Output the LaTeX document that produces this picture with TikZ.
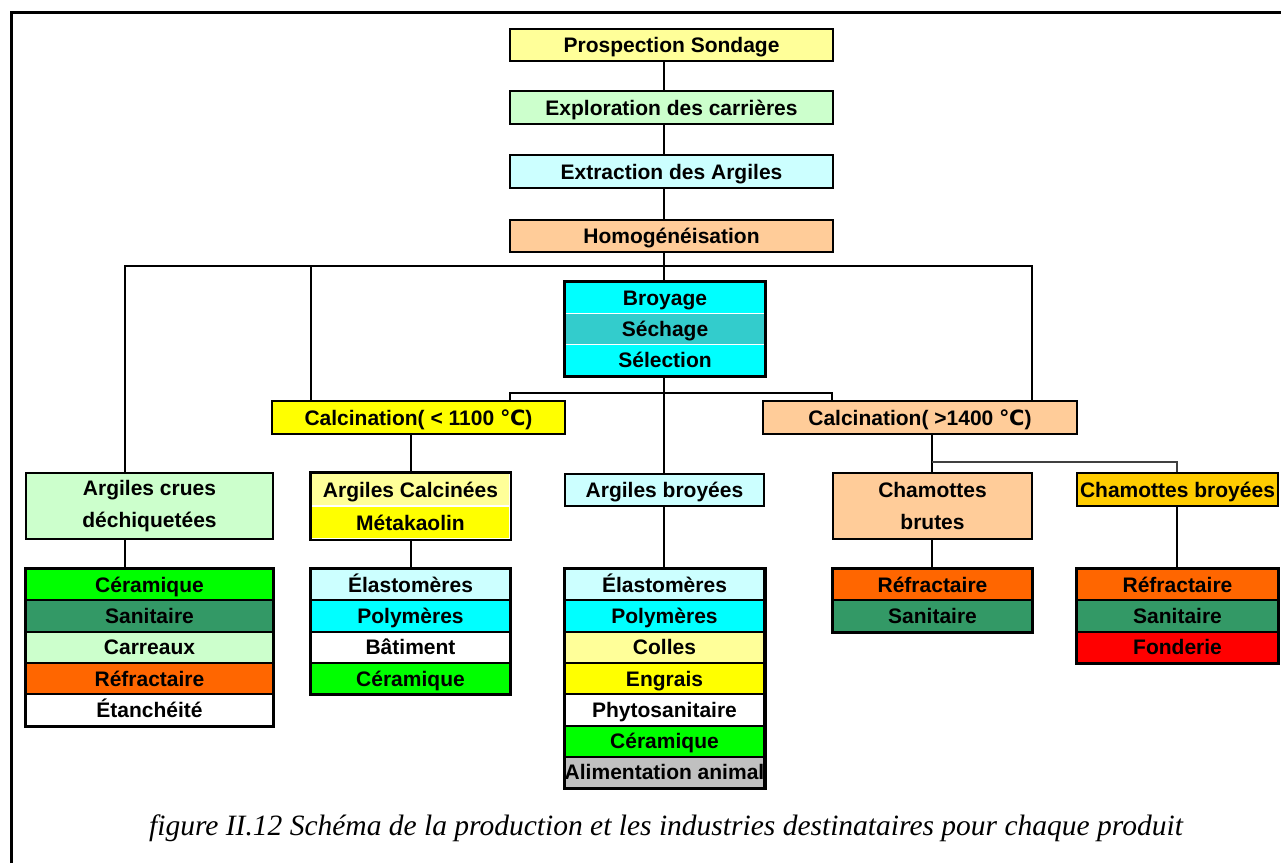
\documentclass[tikz,border=0pt]{standalone}
\usepackage{fontspec}
\setmainfont{Liberation Serif}
\setsansfont{Liberation Sans}
\newfontfamily\dejavu{DejaVu Sans}
\definecolor{lyel}{HTML}{FFFF99}
\definecolor{lgreen}{HTML}{CCFFCC}
\definecolor{lcyan}{HTML}{CCFFFF}
\definecolor{peach}{HTML}{FFCC99}
\definecolor{cyanb}{HTML}{00FFFF}
\definecolor{teal2}{HTML}{33CCCC}
\definecolor{yel}{HTML}{FFFF00}
\definecolor{gold}{HTML}{FFCC00}
\definecolor{green2}{HTML}{00FF00}
\definecolor{sea}{HTML}{339966}
\definecolor{orange2}{HTML}{FF6600}
\definecolor{red2}{HTML}{FF0000}
\definecolor{gray2}{HTML}{C0C0C0}
\newcommand\degC{{\dejavu\bfseries ℃}}
\tikzset{
  lbl/.style={font=\sffamily\bfseries\fontsize{21}{32}\selectfont, inner sep=0pt, align=center},
  oneline/.style={text height=15pt, text depth=0pt},
  mainbox/.style={lbl, oneline, draw, line width=2.5pt, minimum width=323pt, minimum height=32pt},
  box/.style={lbl, draw, line width=2pt},
  row/.style={lbl, oneline, draw, line width=2pt, minimum height=31.3pt},
  wrow/.style={lbl, oneline, draw=white, line width=1.5pt},
  outer/.style={line width=2.5pt},
  conn/.style={line width=2pt},
  thinconn/.style={line width=1.5pt, draw=black!75},
  frameline/.style={line width=3pt},
  captxt/.style={font=\itshape\fontsize{29.5}{32}\selectfont, inner sep=0pt}
}
\begin{document}
\begin{tikzpicture}[x=1pt,y=-1pt]
\useasboundingbox (0,0) rectangle (1281,863);
\draw[frameline] (11,863) -- (11,12) -- (1281,12);

% main column
\node[mainbox, fill=lyel] (prosp) at (671.5,45) {Prospection Sondage};
\node[mainbox, fill=lgreen, minimum height=33pt] (explo) at (671.5,107.5) {Exploration des carrières};
\node[mainbox, fill=lcyan, minimum height=33pt] (extr) at (671.5,171.5) {Extraction des Argiles};
\node[mainbox, fill=peach] (homog) at (671.5,236) {Homogénéisation};

% broyage block
\begin{scope}[every node/.append style={minimum width=200pt, minimum height=31.3pt}]
\node[wrow, fill=cyanb] (broy1) at (665,297.65) {Broyage};
\node[wrow, fill=teal2] (broy2) at (665,328.95) {Séchage};
\node[wrow, fill=cyanb] (broy3) at (665,360.25) {Sélection};
\end{scope}
\draw[outer, line width=3pt] (broy1.north west) rectangle (broy3.south east);

% calcination
\node[mainbox, fill=yel, minimum width=293pt, minimum height=33pt] (calc1) at (418.5,417.5) {Calcination( < 1100 \degC)};
\node[mainbox, fill=peach, minimum width=314pt, minimum height=33pt] (calc2) at (920,417.5) {Calcination( >1400 \degC)};

% second row
\node[box, fill=lgreen, minimum width=247pt, minimum height=66pt] (crues) at (149.5,506) {Argiles crues\\déchiquetées};
\begin{scope}[every node/.append style={minimum width=199pt, minimum height=33pt}]
\node[wrow, fill=lyel] (calcA) at (410.5,489.5) {Argiles Calcinées};
\node[wrow, fill=yel] (calcB) at (410.5,522.5) {Métakaolin};
\end{scope}
\draw[outer] (calcA.north west) rectangle (calcB.south east);
\node[box, oneline, fill=lcyan, minimum width=199pt, minimum height=32pt, line width=2.5pt] (broyees) at (664.5,490) {Argiles broyées};
\node[box, fill=peach, minimum width=199pt, minimum height=66pt] (chbrutes) at (932.5,506) {Chamottes\\brutes};
\node[box, oneline, fill=gold, minimum width=201pt, minimum height=33pt, line width=2.5pt] (chbroy) at (1177.5,489.5) {Chamottes broyées};

% list 1
\begin{scope}[every node/.append style={minimum width=247pt}]
\node[row, fill=green2] (la1) at (149.5,584.65) {Céramique};
\node[row, fill=sea] (la2) at (149.5,615.95) {Sanitaire};
\node[row, fill=lgreen] (la3) at (149.5,647.25) {Carreaux};
\node[row, fill=orange2] (la4) at (149.5,678.55) {Réfractaire};
\node[row, fill=white] (la5) at (149.5,709.85) {Étanchéité};
\end{scope}
\draw[outer] (la1.north west) rectangle (la5.south east);

% list 2
\begin{scope}[every node/.append style={minimum width=199pt}]
\node[row, fill=lcyan] (lb1) at (410.5,584.65) {Élastomères};
\node[row, fill=cyanb] (lb2) at (410.5,615.95) {Polymères};
\node[row, fill=white] (lb3) at (410.5,647.25) {Bâtiment};
\node[row, fill=green2] (lb4) at (410.5,678.55) {Céramique};
\end{scope}
\draw[outer] (lb1.north west) rectangle (lb4.south east);

% list 3
\begin{scope}[every node/.append style={minimum width=199pt}]
\node[row, fill=lcyan] (lc1) at (664.5,584.65) {Élastomères};
\node[row, fill=cyanb] (lc2) at (664.5,615.95) {Polymères};
\node[row, fill=lyel] (lc3) at (664.5,647.25) {Colles};
\node[row, fill=yel] (lc4) at (664.5,678.55) {Engrais};
\node[row, fill=white] (lc5) at (664.5,709.85) {Phytosanitaire};
\node[row, fill=green2] (lc6) at (664.5,741.15) {Céramique};
\node[row, fill=gray2] (lc7) at (664.5,772.45) {Alimentation animal};
\end{scope}
\draw[outer] (lc1.north west) rectangle (lc7.south east);

% list 4
\begin{scope}[every node/.append style={minimum width=199pt}]
\node[row, fill=orange2] (ld1) at (932.5,584.65) {Réfractaire};
\node[row, fill=sea] (ld2) at (932.5,615.95) {Sanitaire};
\end{scope}
\draw[outer] (ld1.north west) rectangle (ld2.south east);

% list 5
\begin{scope}[every node/.append style={minimum width=201pt}]
\node[row, fill=orange2] (le1) at (1177.5,584.65) {Réfractaire};
\node[row, fill=sea] (le2) at (1177.5,615.95) {Sanitaire};
\node[row, fill=red2] (le3) at (1177.5,647.25) {Fonderie};
\end{scope}
\draw[outer] (le1.north west) rectangle (le3.south east);

% connectors
\coordinate (sp) at (664,0);
\draw[conn] (prosp.south -| sp) -- (explo.north -| sp);
\draw[conn] (explo.south -| sp) -- (extr.north -| sp);
\draw[conn] (extr.south -| sp) -- (homog.north -| sp);
\draw[conn] (homog.south -| sp) -- (broy1.north -| sp);
\coordinate (barL) at (125,266);
\coordinate (barM) at (311,266);
\coordinate (barR) at (1032,266);
\draw[conn] (crues.north -| barL) -- (barL) -- (barR) -- (barR |- calc2.north);
\draw[conn] (barM) -- (barM |- calc1.north);
\coordinate (b2L) at (510,393);
\coordinate (b2R) at (832,393);
\draw[conn] (b2L |- calc1.north) -- (b2L) -- (b2R) -- (b2R |- calc2.north);
\draw[conn] (broy3.south -| sp) -- (broyees.north -| sp);
\coordinate (c1x) at (411,0);
\draw[conn] (calc1.south -| c1x) -- (calcA.north -| c1x);
\coordinate (c2x) at (932,0);
\draw[conn] (calc2.south -| c2x) -- (chbrutes.north -| c2x);
\coordinate (c3) at (1177,462);
\draw[thinconn] (c2x |- c3) -- (c3) -- (chbroy.north -| c3);
\draw[conn] (crues.south -| barL) -- (la1.north -| barL);
\draw[conn] (calcB.south -| c1x) -- (lb1.north -| c1x);
\draw[conn] (broyees.south -| sp) -- (lc1.north -| sp);
\draw[conn] (chbrutes.south -| c2x) -- (ld1.north -| c2x);
\draw[conn] (chbroy.south -| c3) -- (le1.north -| c3);

% caption
\node[captxt] (cap) at (666,828) {figure II.12 Schéma de la production et les industries destinataires pour chaque produit};
\end{tikzpicture}
\end{document}
